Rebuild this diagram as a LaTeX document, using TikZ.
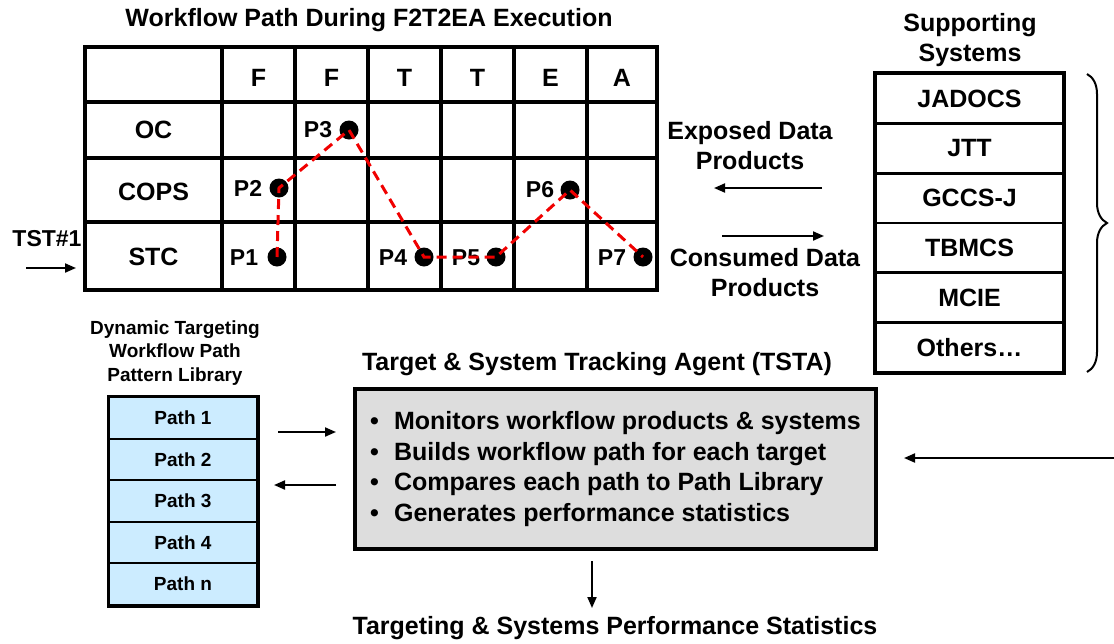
\documentclass[tikz,border=0pt]{standalone}
\usepackage{fontspec}
\setmainfont{Liberation Sans}
\usetikzlibrary{arrows.meta,decorations.pathreplacing}
\definecolor{libblue}{RGB}{204,236,255}
\definecolor{boxgray}{RGB}{221,221,221}
\definecolor{pathred}{RGB}{240,0,0}
\begin{document}
\begin{tikzpicture}[x=1pt,y=-1pt,
  every node/.style={font=\bfseries\fontsize{25}{30}\selectfont, inner sep=0pt},
  tbl/.style={line width=4pt},
  plabel/.style={font=\bfseries\fontsize{23}{27}\selectfont, anchor=east},
  dot/.style={circle, fill=black, minimum size=19pt, inner sep=0pt},
  sysbox/.style={draw, line width=2.5pt, minimum width=187pt, minimum height=49.67pt},
  libbox/.style={draw, line width=2pt, fill=libblue, minimum width=148pt, minimum height=41.6pt, font=\bfseries\fontsize{19}{23}\selectfont},
  arr/.style={line width=2pt, -{Triangle[length=11pt,width=9pt]}},
  redpath/.style={draw=pathred, line width=3pt, dash pattern=on 10pt off 6pt}
]
\useasboundingbox (0,0) rectangle (1114,643);

% Title
\node (title) at (369,20) {Workflow Path During F2T2EA Execution};

% Table grid
\draw[tbl] (85,47) rectangle (657,290);
\foreach \x in {222,295,368,441,514,587} \draw[tbl] (\x,47) -- (\x,290);
\foreach \y in {102,158,222} \draw[tbl] (85,\y) -- (657,\y);

% Column headers
\node (hF1) at (258.5,78) {F};
\node (hF2) at (331.5,78) {F};
\node (hT1) at (404.5,78) {T};
\node (hT2) at (477.5,78) {T};
\node (hE)  at (550.5,78) {E};
\node (hA)  at (622,78) {A};

% Row labels
\node (rOC) at (153.5,130) {OC};
\node (rCOPS) at (153.5,192) {COPS};
\node (rSTC) at (153.5,257) {STC};

% TST#1
\node[font=\bfseries\fontsize{23}{27}\selectfont] (tst) at (47,239) {TST\#1};
\coordinate (tsta1) at (26,268);
\coordinate (tstb1) at (76,268);
\draw[arr] (tsta1) -- (tstb1);

% Dots
\node[dot] (p1) at (277,257) {};
\node[dot] (p2) at (279,188) {};
\node[dot] (p3) at (349,130) {};
\node[dot] (p4) at (424,257) {};
\node[dot] (p5) at (496,257) {};
\node[dot] (p6) at (570,190) {};
\node[dot] (p7) at (643,257) {};
\node[plabel] (l1) at ([xshift=-9pt,yshift=-1pt]p1.west) {P1};
\node[plabel] (l2) at ([xshift=-7pt]p2.west) {P2};
\node[plabel] (l3) at ([xshift=-7pt]p3.west) {P3};
\node[plabel] (l4) at ([xshift=-7pt,yshift=-1pt]p4.west) {P4};
\node[plabel] (l5) at ([xshift=-6pt,yshift=-1pt]p5.west) {P5};
\node[plabel] (l6) at ([xshift=-6pt]p6.west) {P6};
\node[plabel] (l7) at ([xshift=-7pt,yshift=-1pt]p7.west) {P7};
\draw[redpath] (p1.center) -- (p2.center) -- (p3.center) -- (p4.center) -- (p5.center) -- (p6.center) -- (p7.center);

% Exposed / consumed
\node[align=center] (exposed) at (750,146) {Exposed Data\\Products};
\coordinate (ea) at (822,188);
\coordinate (eb) at (714,188);
\draw[arr] (ea) -- (eb);
\coordinate (ca) at (722,236);
\coordinate (cb) at (824,236);
\draw[arr] (ca) -- (cb);
\node[align=center] (consumed) at (765,273) {Consumed Data\\Products};

% Supporting systems
\node[align=center] (suptitle) at (970,40) {Supporting\\Systems};
\node[sysbox] (s1) at (969.5,98.8) {JADOCS};
\node[sysbox] (s2) at (969.5,148.5) {JTT};
\node[sysbox] (s3) at (969.5,198.2) {GCCS-J};
\node[sysbox] (s4) at (969.5,247.8) {TBMCS};
\node[sysbox] (s5) at (969.5,297.5) {MCIE};
\node[sysbox] (s6) at (969.5,347.2) {Others\ldots};
\draw[line width=3.5pt] (s1.north west) rectangle (s6.south east);

% Brace
\coordinate (bt) at (1087,74);
\coordinate (bb) at (1087,372);
\draw[line width=2pt, decorate, decoration={brace, amplitude=20pt}] (bt) -- (bb);

% Path library
\node[align=center, font=\bfseries\fontsize{19}{23.5}\selectfont] (libtitle) at (175,353) {Dynamic Targeting\\Workflow Path\\Pattern Library};
\node[libbox] (lib1) at (183,417.8) {Path 1};
\node[libbox] (lib2) at (183,459.4) {Path 2};
\node[libbox] (lib3) at (183,501) {Path 3};
\node[libbox] (lib4) at (183,542.6) {Path 4};
\node[libbox] (lib5) at (183,584.2) {Path n};
\draw[line width=3pt] (lib1.north west) rectangle (lib5.south east);

% TSTA
\node (tstatitle) at (597,364) {Target \& System Tracking Agent (TSTA)};
\node[draw, line width=4pt, fill=boxgray, minimum width=521pt, minimum height=160pt, align=left, font=\bfseries\fontsize{25}{30.7}\selectfont] (tsta) at (615.5,469)
{\makebox[24pt][l]{•}Monitors workflow products \& systems\\
\makebox[24pt][l]{•}Builds workflow path for each target\\
\makebox[24pt][l]{•}Compares each path to Path Library\\
\makebox[24pt][l]{•}Generates performance statistics};

\coordinate (la) at (278,432);
\coordinate (lb) at (336,432);
\draw[arr] (la) -- (lb);
\coordinate (lc) at (336,485);
\coordinate (ld) at (274,485);
\draw[arr] (lc) -- (ld);

\coordinate (ra) at (1114,458);
\coordinate (rb) at (904,458);
\draw[arr] (ra) -- (rb);

\node (stats) at (615,628) {Targeting \& Systems Performance Statistics};
\coordinate (da) at (592,561);
\coordinate (db) at (592,608);
\draw[arr] (da) -- (db);
\end{tikzpicture}
\end{document}
